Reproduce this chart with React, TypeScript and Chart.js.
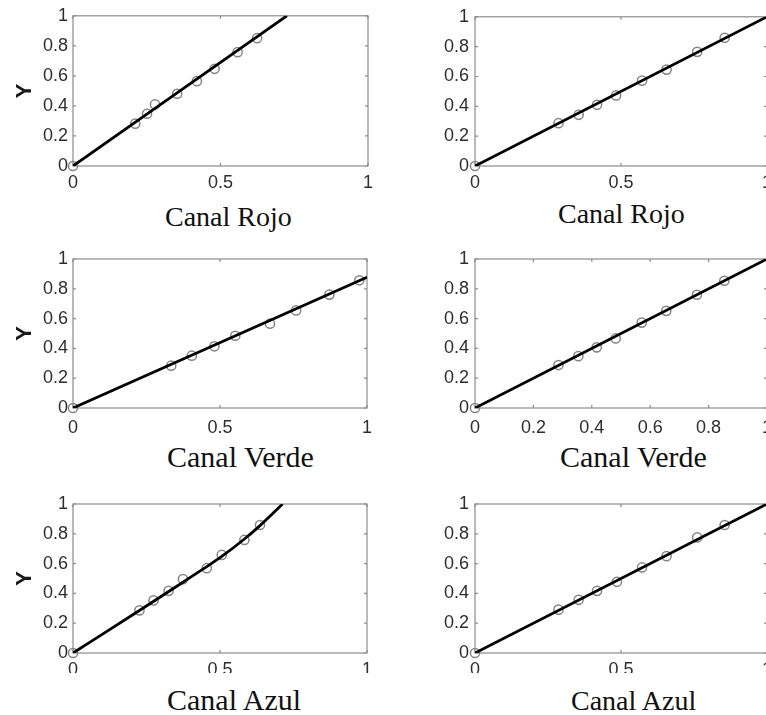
import React, { useEffect, useRef } from 'react';
import { Chart, registerables } from 'chart.js';

Chart.register(...registerables);

// ---- tick labels ----
const yTickValues = [0, 0.2, 0.4, 0.6, 0.8, 1];
const xTicksHalf = [0, 0.5, 1];
const xTicksFifth = [0, 0.2, 0.4, 0.6, 0.8, 1];

// ---- captions ----
const captions = ['Canal Rojo', 'Canal Rojo', 'Canal Verde', 'Canal Verde', 'Canal Azul', 'Canal Azul'];

// ---- measured points (x = channel value, y = luminance Y) ----
const rojoLeftX = [0, 0.211, 0.251, 0.278, 0.353, 0.42, 0.48, 0.558, 0.624];
const rojoLeftY = [0, 0.282, 0.348, 0.41, 0.481, 0.565, 0.647, 0.758, 0.851];
const rojoLeftFitX = [0, 0.725];
const rojoLeftFitY = [0, 1];

const rojoRightX = [0, 0.286, 0.355, 0.418, 0.483, 0.572, 0.656, 0.761, 0.855];
const rojoRightY = [0, 0.287, 0.343, 0.41, 0.473, 0.572, 0.646, 0.765, 0.859];
const rojoRightFitX = [0, 1];
const rojoRightFitY = [0, 1];

const verdeLeftX = [0, 0.334, 0.404, 0.481, 0.552, 0.67, 0.759, 0.872, 0.974];
const verdeLeftY = [0, 0.284, 0.351, 0.414, 0.485, 0.566, 0.655, 0.761, 0.857];
const verdeLeftFitX = [0, 1];
const verdeLeftFitY = [0, 0.877];

const verdeRightX = [0, 0.286, 0.354, 0.417, 0.482, 0.571, 0.655, 0.76, 0.854];
const verdeRightY = [0, 0.288, 0.348, 0.407, 0.467, 0.573, 0.652, 0.76, 0.854];
const verdeRightFitX = [0, 1];
const verdeRightFitY = [0, 1];

const azulLeftX = [0, 0.226, 0.274, 0.325, 0.374, 0.455, 0.506, 0.583, 0.636];
const azulLeftY = [0, 0.286, 0.353, 0.417, 0.496, 0.569, 0.658, 0.759, 0.859];
const azulLeftFitX = [0, 0.226, 0.374, 0.455, 0.506, 0.583, 0.636, 0.713];
const azulLeftFitY = [0, 0.285, 0.475, 0.58, 0.648, 0.765, 0.855, 1];

const azulRightX = [0, 0.286, 0.355, 0.418, 0.486, 0.572, 0.656, 0.761, 0.855];
const azulRightY = [0, 0.291, 0.357, 0.417, 0.478, 0.574, 0.65, 0.776, 0.859];
const azulRightFitX = [0, 1];
const azulRightFitY = [0, 1];

type Layout = {
  left: number; top: number; width: number; height: number;
  aLeft: number; aTop: number; aRight: number; aBottom: number;
  xPad: number; yPad: number; yTitle: boolean;
  capLeft: number; capBaseline: number; capSize: number;
};

const layouts: Layout[] = [
  { left: 0, top: 0, width: 383, height: 200, aLeft: 73, aTop: 15, aRight: 368, aBottom: 166, xPad: 6, yPad: 5, yTitle: true, capLeft: 165, capBaseline: 226, capSize: 28 },
  { left: 383, top: 0, width: 400, height: 189, aLeft: 92, aTop: 16, aRight: 384, aBottom: 166, xPad: 6, yPad: 6, yTitle: false, capLeft: 558, capBaseline: 223, capSize: 28 },
  { left: 0, top: 240, width: 383, height: 200, aLeft: 73, aTop: 19, aRight: 367, aBottom: 168, xPad: 9, yPad: 5, yTitle: true, capLeft: 167, capBaseline: 467, capSize: 30 },
  { left: 383, top: 240, width: 400, height: 200, aLeft: 92, aTop: 19, aRight: 384, aBottom: 168, xPad: 9, yPad: 6, yTitle: false, capLeft: 560, capBaseline: 467, capSize: 30 },
  { left: 0, top: 480, width: 383, height: 193, aLeft: 73, aTop: 24, aRight: 367, aBottom: 173, xPad: 6, yPad: 5, yTitle: true, capLeft: 167, capBaseline: 710, capSize: 30 },
  { left: 383, top: 480, width: 400, height: 193, aLeft: 92, aTop: 24, aRight: 384, aBottom: 173, xPad: 6, yPad: 6, yTitle: false, capLeft: 571, capBaseline: 710, capSize: 28 },
];

type Series = { xs: number[]; ys: number[]; fx: number[]; fy: number[]; xTicks: number[] };

const series: Series[] = [
  { xs: rojoLeftX, ys: rojoLeftY, fx: rojoLeftFitX, fy: rojoLeftFitY, xTicks: xTicksHalf },
  { xs: rojoRightX, ys: rojoRightY, fx: rojoRightFitX, fy: rojoRightFitY, xTicks: xTicksHalf },
  { xs: verdeLeftX, ys: verdeLeftY, fx: verdeLeftFitX, fy: verdeLeftFitY, xTicks: xTicksHalf },
  { xs: verdeRightX, ys: verdeRightY, fx: verdeRightFitX, fy: verdeRightFitY, xTicks: xTicksFifth },
  { xs: azulLeftX, ys: azulLeftY, fx: azulLeftFitX, fy: azulLeftFitY, xTicks: xTicksHalf },
  { xs: azulRightX, ys: azulRightY, fx: azulRightFitX, fy: azulRightFitY, xTicks: xTicksHalf },
];

const boxPlugin = {
  id: 'matlabBox',
  beforeDatasetsDraw(chart: any) {
    const { ctx, chartArea } = chart;
    const { left, right, top, bottom } = chartArea;
    const xs = chart.scales.x;
    const ys = chart.scales.y;
    ctx.save();
    ctx.strokeStyle = '#8c8c8c';
    ctx.lineWidth = 1.2;
    ctx.strokeRect(left, top, right - left, bottom - top);
    const L = 3;
    ctx.beginPath();
    xs.ticks.forEach((t: any) => {
      const px = xs.getPixelForValue(t.value);
      ctx.moveTo(px, bottom); ctx.lineTo(px, bottom - L);
      ctx.moveTo(px, top); ctx.lineTo(px, top + L);
    });
    ys.ticks.forEach((t: any) => {
      const py = ys.getPixelForValue(t.value);
      ctx.moveTo(left, py); ctx.lineTo(left + L, py);
      ctx.moveTo(right, py); ctx.lineTo(right - L, py);
    });
    ctx.stroke();
    ctx.restore();
  },
};

const tickFont = { family: '"Liberation Sans", Arial, sans-serif', size: 18 };
const tickColor = '#2e2e2e';

function Panel({ lay, s }: { lay: Layout; s: Series }) {
  const ref = useRef<HTMLCanvasElement>(null);
  useEffect(() => {
    const canvas = ref.current;
    if (!canvas) return;
    const chart = new Chart(canvas, {
      type: 'scatter',
      data: {
        datasets: [
          {
            data: s.fx.map((x, i) => ({ x, y: s.fy[i] })),
            showLine: true,
            borderColor: '#000',
            borderWidth: 2.8,
            pointRadius: 0,
            cubicInterpolationMode: 'monotone',
          } as any,
          {
            data: s.xs.map((x, i) => ({ x, y: s.ys[i] })),
            showLine: false,
            pointRadius: 4.6,
            pointBorderColor: '#858585',
            pointBackgroundColor: 'rgba(0,0,0,0)',
            pointBorderWidth: 1.5,
            clip: false,
          } as any,
        ],
      },
      options: {
        animation: false,
        responsive: false,
        devicePixelRatio: 1,
        events: [],
        layout: { padding: { left: 0, top: lay.aTop, right: lay.width - lay.aRight, bottom: 0 } },
        plugins: { legend: { display: false }, tooltip: { enabled: false }, title: { display: false } },
        scales: {
          x: {
            type: 'linear',
            min: 0,
            max: 1,
            grid: { display: false, drawTicks: false },
            border: { display: false },
            afterBuildTicks: (sc: any) => { sc.ticks = s.xTicks.map((v) => ({ value: v })); },
            afterFit: (sc: any) => { sc.height = lay.height - lay.aBottom; },
            ticks: {
              autoSkip: false,
              maxRotation: 0,
              padding: lay.xPad,
              color: tickColor,
              font: tickFont,
              callback: (v: any) => String(Number(v)),
            },
          },
          y: {
            type: 'linear',
            min: 0,
            max: 1,
            grid: { display: false, drawTicks: false },
            border: { display: false },
            afterBuildTicks: (sc: any) => { sc.ticks = yTickValues.map((v) => ({ value: v })); },
            afterFit: (sc: any) => { sc.width = lay.aLeft; },
            ticks: {
              autoSkip: false,
              padding: lay.yPad,
              color: tickColor,
              font: tickFont,
              callback: (v: any) => String(Number(v)),
            },
            title: {
              display: lay.yTitle,
              text: 'Y',
              color: '#1a1a1a',
              font: { family: '"Liberation Sans", Arial, sans-serif', size: 22, weight: 'bold' },
              padding: { top: 12, bottom: 0 },
            },
          },
        },
      } as any,
      plugins: [boxPlugin],
    });
    return () => chart.destroy();
  }, []);
  return (
    <canvas
      ref={ref}
      width={lay.width}
      height={lay.height}
      style={{ position: 'absolute', left: lay.left, top: lay.top, width: lay.width, height: lay.height }}
    />
  );
}

export default function App() {
  return (
    <div style={{ position: 'absolute', left: 0, top: 0, width: 766, height: 715, overflow: 'hidden', background: '#fff' }}>
      {layouts.map((lay, i) => (
        <Panel key={i} lay={lay} s={series[i]} />
      ))}
      {layouts.map((lay, i) => (
        <div
          key={'c' + i}
          style={{
            position: 'absolute',
            left: lay.capLeft,
            top: lay.capBaseline - lay.capSize * 0.8375,
            fontFamily: '"Liberation Serif", "Times New Roman", serif',
            fontSize: lay.capSize,
            lineHeight: 1,
            whiteSpace: 'nowrap',
            color: '#111',
          }}
        >
          {captions[i]}
        </div>
      ))}
    </div>
  );
}
